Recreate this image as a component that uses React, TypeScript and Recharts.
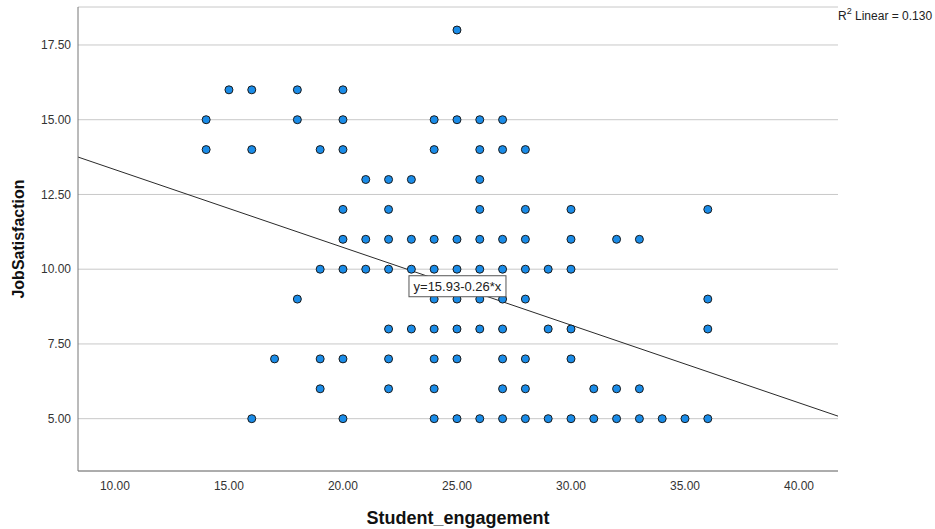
import { ScatterChart, Scatter, XAxis, YAxis, CartesianGrid, ReferenceLine, ReferenceDot } from 'recharts';

// Student_engagement values observed at each JobSatisfaction score
const engagementAt5 = [16, 20, 24, 25, 26, 27, 28, 29, 30, 31, 32, 33, 34, 35, 36];
const engagementAt6 = [19, 22, 24, 27, 28, 31, 32, 33];
const engagementAt7 = [17, 19, 20, 22, 24, 25, 27, 28, 30];
const engagementAt8 = [22, 23, 24, 25, 26, 27, 29, 30, 36];
const engagementAt9 = [18, 24, 25, 26, 27, 28, 36];
const engagementAt10 = [19, 20, 21, 22, 23, 24, 25, 26, 27, 28, 29, 30];
const engagementAt11 = [20, 21, 22, 23, 24, 25, 26, 27, 28, 30, 32, 33];
const engagementAt12 = [20, 22, 26, 28, 30, 36];
const engagementAt13 = [21, 22, 23, 26];
const engagementAt14 = [14, 16, 19, 20, 24, 26, 27, 28];
const engagementAt15 = [14, 18, 20, 24, 25, 26, 27];
const engagementAt16 = [15, 16, 18, 20];
const engagementAt18 = [25];

const rows: [number, number[]][] = [
  [5, engagementAt5],
  [6, engagementAt6],
  [7, engagementAt7],
  [8, engagementAt8],
  [9, engagementAt9],
  [10, engagementAt10],
  [11, engagementAt11],
  [12, engagementAt12],
  [13, engagementAt13],
  [14, engagementAt14],
  [15, engagementAt15],
  [16, engagementAt16],
  [18, engagementAt18],
];

const xTicks = [10, 15, 20, 25, 30, 35, 40];
const yTicks = [5, 7.5, 10, 12.5, 15, 17.5];
const xDomain = [8.38, 41.71];
const yDomain = [3.25, 18.77];

// fit line y = intercept + slope * x
const intercept = 15.93;
const slope = -0.26;
const rSquared = 0.13;

const points = rows.flatMap(([score, xs]) => xs.map((x) => ({ x, y: score })));

const font = 'Arial, "Liberation Sans", sans-serif';

const Dot = (props: any) => (
  <circle cx={props.cx} cy={props.cy} r={4} fill="#1a8ce8" stroke="#1a1a1a" strokeWidth={1} />
);

const EquationBox = (props: any) => (
  <g>
    <rect x={props.cx - 48} y={props.cy - 10.5} width={97} height={21} fill="#fff" stroke="#555" strokeWidth={1} />
    <text x={props.cx + 0.5} y={props.cy} textAnchor="middle" dominantBaseline="central" fontSize={13} fill="#222" fontFamily={font}>
      {`y=${intercept.toFixed(2)}-${Math.abs(slope).toFixed(2)}*x`}
    </text>
  </g>
);

export default function App() {
  return (
    <div style={{ position: 'absolute', left: 0, top: 0, width: 935, height: 529, background: '#fff', fontFamily: font }}>
      <ScatterChart width={935} height={529} margin={{ top: 7, right: 97, left: 0, bottom: 0 }}>
        <CartesianGrid vertical={false} stroke="#c8c8c8" strokeWidth={1} />
        <XAxis
          type="number"
          dataKey="x"
          domain={xDomain}
          ticks={xTicks}
          tickFormatter={(v: number) => v.toFixed(2)}
          tickLine={false}
          tickSize={0}
          tickMargin={10}
          height={58}
          axisLine={{ stroke: '#777' }}
          tick={{ fill: '#333', fontSize: 12, fontFamily: font }}
          label={{ value: 'Student_engagement', position: 'insideBottom', offset: 5, fill: '#111', fontSize: 18, fontWeight: 'bold', fontFamily: font }}
        />
        <YAxis
          type="number"
          dataKey="y"
          domain={yDomain}
          ticks={yTicks}
          tickFormatter={(v: number) => v.toFixed(2)}
          tickLine={false}
          tickSize={0}
          tickMargin={7}
          width={78}
          axisLine={{ stroke: '#777' }}
          tick={{ fill: '#333', fontSize: 12, fontFamily: font }}
          label={{ value: 'JobSatisfaction', angle: -90, position: 'insideLeft', offset: 18, textAnchor: 'middle', fill: '#111', fontSize: 16, fontWeight: 'bold', fontFamily: font }}
        />
        <Scatter data={points} shape={Dot} isAnimationActive={false} />
        <ReferenceLine
          segment={[
            { x: xDomain[0], y: intercept + slope * xDomain[0] },
            { x: xDomain[1], y: intercept + slope * xDomain[1] },
          ]}
          stroke="#2a2a2a"
          strokeWidth={1}
        />
        <ReferenceDot x={25} y={intercept + slope * 25} shape={EquationBox} />
      </ScatterChart>
      <div style={{ position: 'absolute', left: 838, top: 9, fontSize: 12, color: '#222', whiteSpace: 'nowrap' }}>
        R<sup style={{ fontSize: 9, verticalAlign: 'top', position: 'relative', top: -3 }}>2</sup> Linear = {rSquared.toFixed(3)}
      </div>
    </div>
  );
}
